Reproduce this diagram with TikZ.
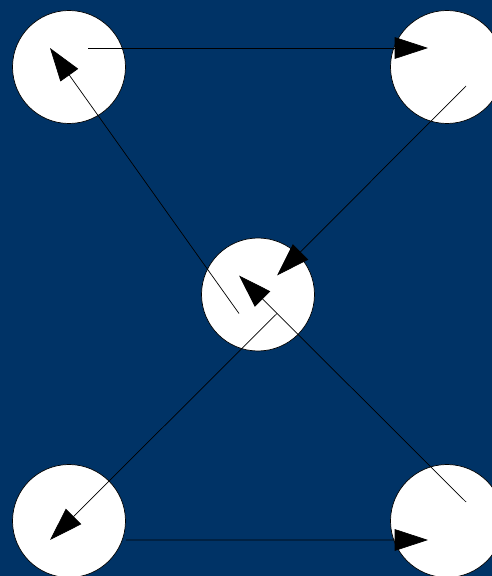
\documentclass[tikz,border=0pt]{standalone}
\usepackage{tikz}
\usepackage{xcolor}
\usetikzlibrary{arrows.meta, positioning, calc}
\definecolor{bgnavy}{HTML}{003366}

\begin{document}
\begin{tikzpicture}[
  vertex/.style={circle, draw=black, fill=white, line width=0.6pt, minimum size=3.39cm, inner sep=0pt},
  edge/.style={draw=black, line width=0.6pt, -{Triangle[length=1.0cm, width=0.65cm]}},
]
  % Background and frame
  \fill[bgnavy] (0, 0) rectangle (14.76, 17.28);
  \useasboundingbox (0, 0) rectangle (14.76, 17.28);

  \node[vertex] (tl) at (2.07, 15.27) {};
  \node[vertex] (tr) at (13.41, 15.27) {};
  \node[vertex] (mid) at (7.74, 8.445) {};
  \node[vertex] (bl) at (2.07, 1.65) {};
  \node[vertex] (br) at (13.41, 1.65) {};

  \draw[edge] ([shift={(0.57, 0.57)}]tl.center) -- ([shift={(-0.57, 0.57)}]tr.center);
  \draw[edge] ([shift={(0.57, -0.57)}]tr.center) -- ([shift={(0.57, 0.57)}]mid.center);
  \draw[edge] ([shift={(-0.57, -0.57)}]mid.center) -- ([shift={(-0.57, 0.57)}]tl.center);
  \draw[edge] ([shift={(0.57, -0.57)}]mid.center) -- ([shift={(-0.57, -0.57)}]bl.center);
  \draw[edge] ([shift={(0.57, 0.57)}]br.center) -- ([shift={(-0.57, 0.57)}]mid.center);
  \draw[edge] ([yshift=-0.57cm]bl.east) -- ([shift={(-0.57, -0.57)}]br.center);
\end{tikzpicture}
\end{document}
